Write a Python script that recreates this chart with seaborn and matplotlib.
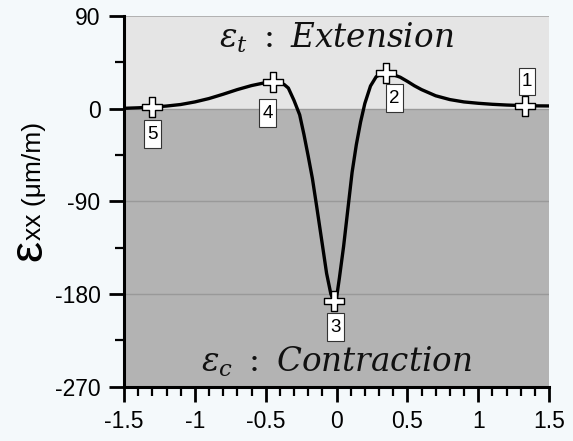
import matplotlib
matplotlib.use("Agg")
import matplotlib.pyplot as plt
from matplotlib.ticker import MultipleLocator
from matplotlib.path import Path
import numpy as np
import pandas as pd
import seaborn as sns

# ---- data ----
curve_x = [-1.5, -1.4, -1.3, -1.2, -1.1, -1.0, -0.9, -0.8, -0.7, -0.6, -0.5, -0.45,
           -0.40, -0.37, -0.34, -0.30, -0.26, -0.23, -0.20, -0.17, -0.14, -0.10,
           -0.07, -0.04, -0.02, 0.0, 0.02, 0.05, 0.08, 0.11, 0.14, 0.17, 0.20,
           0.24, 0.28, 0.32, 0.35, 0.40, 0.45, 0.50, 0.55, 0.60, 0.70, 0.80,
           0.90, 1.0, 1.1, 1.2, 1.3, 1.4, 1.5]
curve_y = [0.3, 0.8, 1.5, 2.5, 4.0, 6.5, 9.8, 14.0, 18.5, 22.4, 25.3, 25.8,
           25.0, 23.5, 20.0, 8.0, -6.0, -25.0, -46.0, -68.0, -95.0, -132.0,
           -160.0, -180.0, -187.0, -184.0, -165.0, -134.0, -98.0, -62.0, -35.0, -13.0, 5.0,
           22.0, 31.0, 34.0, 34.5, 33.0, 30.5, 26.5, 22.2, 18.5, 12.5, 8.8,
           6.5, 5.2, 4.2, 3.5, 3.0, 2.7, 2.6]

point_labels = ["1", "2", "3", "4", "5"]
point_x = [1.33, 0.35, -0.02, -0.45, -1.30]
point_y = [2.8, 34.5, -187.0, 25.8, 1.5]

x_ticks = [-1.5, -1, -0.5, 0, 0.5, 1, 1.5]
x_tick_labels = ["-1.5", "-1", "-0.5", "0", "0.5", "1", "1.5"]
y_ticks = [-270, -180, -90, 0, 90]
y_tick_labels = ["-270", "-180", "-90", "0", "90"]

# label box offsets (pixels) relative to markers
label_offsets = [(2, 24), (8, -25), (2, -26), (-5, -31), (0, -27)]


def tall_box(x0, y0, width, height, mutation_size):
    padx = 0.17 * mutation_size
    pady = 0.28 * mutation_size
    x0, y0 = x0 - padx, y0 - pady
    x1, y1 = x0 + width + 2 * padx, y0 + height + 2 * pady
    return Path([(x0, y0), (x1, y0), (x1, y1), (x0, y1), (x0, y0)], closed=True)


# ---- style ----
sns.set_theme(style="white")
plt.rcParams["font.family"] = ["Liberation Sans", "DejaVu Sans"]
plt.rcParams["axes.unicode_minus"] = False
plt.rcParams["mathtext.fontset"] = "dejavuserif"

W, H = 573, 441
fig = plt.figure(figsize=(W / 100, H / 100), dpi=100, facecolor="#F4F9FB")
ax = fig.add_axes([124 / W, 1 - 386.5 / H, (549 - 124) / W, (386.5 - 16) / H])
ax.set_facecolor("none")

ax.set_xlim(-1.5, 1.5)
ax.set_ylim(-270, 90)

# background bands
ax.axhspan(0, 90, color="#E5E5E5", zorder=0, lw=0)
ax.axhspan(-270, 0, color="#B3B3B3", zorder=0, lw=0)
for yv in [-180, -90]:
    ax.axhline(yv, color="#999999", lw=1.0, zorder=1)
ax.axhline(0, color="#9a9a9a", lw=1.0, zorder=1)
ax.axhline(90, color="#a8a8a8", lw=1.2, zorder=1)

df = pd.DataFrame({"x": curve_x, "y": curve_y})
sns.lineplot(data=df, x="x", y="y", ax=ax, color="black", lw=2.4, sort=False,
             zorder=3)

pts = pd.DataFrame({"x": point_x, "y": point_y, "lab": point_labels})
sns.scatterplot(data=pts, x="x", y="y", ax=ax, marker="P", s=210,
                facecolor="white", edgecolor="black", linewidth=1.0, zorder=4)

for lab, xv, yv, (dx, dy) in zip(point_labels, point_x, point_y, label_offsets):
    ax.annotate(lab, (xv, yv), xytext=(dx * 0.72, dy * 0.72),
                textcoords="offset points", ha="center", va="center",
                fontsize=13.5, color="black", zorder=5,
                bbox=dict(boxstyle=tall_box, fc="white",
                          ec="#333333", lw=0.8))

# region annotations
ax.text(0.0, 69, r"$\varepsilon_t\ :\ Extension$", ha="center", va="center",
        fontsize=23.5, color="#111111", zorder=2)
ax.text(0.0, -246, r"$\varepsilon_c\ :\ Contraction$", ha="center", va="center",
        fontsize=23.5, color="#111111", zorder=2)

# axes, ticks
ax.set_xticks(x_ticks)
ax.set_xticklabels(x_tick_labels)
ax.set_yticks(y_ticks)
ax.set_yticklabels(y_tick_labels)
ax.xaxis.set_minor_locator(MultipleLocator(0.1))
ax.yaxis.set_minor_locator(MultipleLocator(45))
ax.tick_params(axis="both", which="major", direction="out", length=11, width=2,
               labelsize=16.5, pad=6, color="black", labelcolor="black",
               bottom=True, left=True)
ax.tick_params(axis="both", which="minor", direction="out", length=6.5, width=1.6,
               color="black", bottom=True, left=True)
ax.set_xlabel("")
ax.set_ylabel("")
for s in ["top", "right"]:
    ax.spines[s].set_visible(False)
for s in ["left", "bottom"]:
    ax.spines[s].set_color("black")
    ax.spines[s].set_linewidth(2.2)
ax.grid(False)

# y label: big epsilon + "xx (μm/m)"
fig.text(41 / W, 1 - 240 / H, "ε", rotation=90, rotation_mode="anchor",
         ha="right", va="baseline", fontsize=34, color="black")
fig.text(41 / W, 1 - 240 / H, "xx (μm/m)", rotation=90, rotation_mode="anchor",
         ha="left", va="baseline", fontsize=19, color="black")

fig.savefig("out.png", dpi=100, facecolor=fig.get_facecolor())
